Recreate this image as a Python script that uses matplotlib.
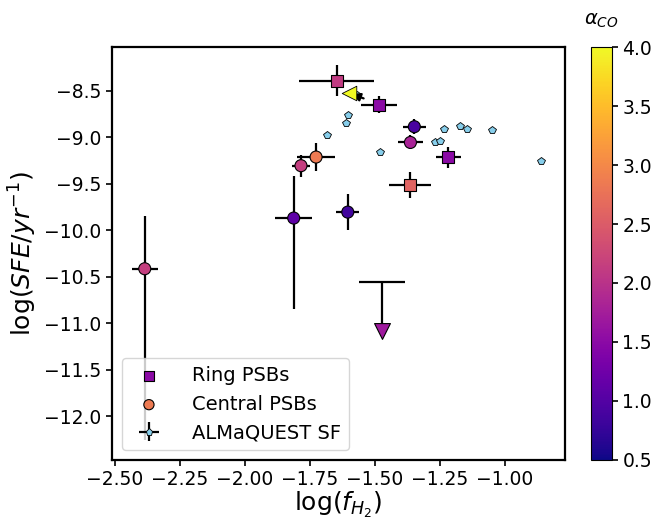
import matplotlib
matplotlib.use("Agg")
import matplotlib.pyplot as plt

# Ring PSBs (squares)
ring_x = [-1.485, -1.647, -1.219, -1.364]
ring_y = [-8.65, -8.392, -9.217, -9.514]
ring_xerr = [0.069, 0.144, 0.048, 0.081]
ring_yerr = [0.09, 0.165, 0.113, 0.136]
ring_aco = [1.5, 2.1, 1.5, 2.6]

# Ring PSB upper limit (bar level, drop to arrow tip)
lim_x = [-1.473]
lim_y = [-10.56]
lim_xerr = [0.09]
lim_drop = [0.525]
lim_aco = [1.7]

# Yellow lower-limit marker
tri_x = [-1.599]
tri_y = [-8.525]
tri_aco = [4.0]

# Central PSBs (circles)
cen_x = [-1.727, -1.349, -1.364, -1.785, -1.813, -1.605, -2.386]
cen_y = [-9.213, -8.887, -9.056, -9.306, -9.869, -9.805, -10.414]
cen_xerr = [0.072, 0.044, 0.049, 0.035, 0.072, 0.045, 0.05]
cen_yerr_lo = [0.152, 0.079, 0.075, 0.12, 0.978, 0.19, 1.84]
cen_yerr_hi = [0.152, 0.079, 0.075, 0.12, 0.448, 0.19, 0.57]
cen_aco = [2.85, 0.92, 1.8, 2.15, 1.1, 0.85, 2.15]

# ALMaQUEST star-forming galaxies
sf_x = [-1.686, -1.610, -1.604, -1.570, -1.481, -1.269, -1.250,
        -1.235, -1.173, -1.145, -1.050, -0.863]
sf_y = [-8.977, -8.851, -8.758, -8.543, -9.163, -9.056, -9.045,
        -8.909, -8.884, -8.909, -8.923, -9.253]

cmap = "plasma"
vmin, vmax = 0.5, 4.0

fig = plt.figure(figsize=(6.53, 5.2), dpi=100)
ax = fig.add_axes([0.1715, 0.1154, 0.6935, 0.7942])
cax = fig.add_axes([0.905, 0.1154, 0.032, 0.7942])

# error bars
ax.errorbar(ring_x, ring_y, xerr=ring_xerr, yerr=ring_yerr, fmt='none',
            ecolor='k', elinewidth=1.6, zorder=1)
ax.errorbar(cen_x, cen_y, xerr=cen_xerr, yerr=[cen_yerr_lo, cen_yerr_hi],
            fmt='none', ecolor='k', elinewidth=1.6, zorder=1)
ax.errorbar(lim_x, lim_y, xerr=lim_xerr, yerr=[lim_drop, [0]], fmt='none',
            ecolor='k', elinewidth=1.6, zorder=1)

sf = ax.errorbar(sf_x, sf_y, xerr=0, yerr=0, fmt='p', color='skyblue',
                 mec='k', mew=0.6, ms=6, ecolor='k', elinewidth=1.6,
                 label='ALMaQUEST SF', zorder=2)

ring = ax.scatter(ring_x, ring_y, c=ring_aco, cmap=cmap, vmin=vmin, vmax=vmax,
                  marker='s', s=75, edgecolors='k', linewidths=0.8,
                  label='Ring PSBs', zorder=3)
cen = ax.scatter(cen_x, cen_y, c=cen_aco, cmap=cmap, vmin=vmin, vmax=vmax,
                 marker='o', s=75, edgecolors='k', linewidths=0.8,
                 label='Central PSBs', zorder=3)

lim_tip = [y - d for y, d in zip(lim_y, lim_drop)]
ax.scatter(lim_x, lim_tip, c=lim_aco, cmap=cmap, vmin=vmin, vmax=vmax,
           marker='v', s=130, edgecolors='k', linewidths=0.8, zorder=3)

ax.annotate('', xy=(tri_x[0], tri_y[0]), xytext=(tri_x[0] + 0.065, tri_y[0] - 0.068),
            arrowprops=dict(arrowstyle='-|>', color='k', lw=1.6, mutation_scale=12),
            zorder=3)
ax.scatter(tri_x, tri_y, c=tri_aco, cmap=cmap, vmin=vmin, vmax=vmax,
           marker='<', s=110, edgecolors='k', linewidths=0.6, zorder=4)

ax.set_xlim(-2.512, -0.77)
ax.set_ylim(-12.47, -8.03)
ax.set_xticks([-2.5, -2.25, -2.0, -1.75, -1.5, -1.25, -1.0])
ax.set_yticks([-12.0, -11.5, -11.0, -10.5, -10.0, -9.5, -9.0, -8.5])
ax.tick_params(labelsize=13.5, width=1.2, length=4)
for s in ax.spines.values():
    s.set_linewidth(1.6)

ax.set_xlabel(r'$\log(f_{H_2})$', fontsize=18, labelpad=0)
ax.set_ylabel(r'$\log(SFE/yr^{-1})$', fontsize=18)

ax.legend(handles=[ring, cen, sf], loc='lower left', fontsize=14,
          handletextpad=1.2, markerscale=0.85)

cb = fig.colorbar(ring, cax=cax)
cb.ax.tick_params(labelsize=13.5, width=1.2, length=4)
cb.ax.set_title(r'$\alpha_{CO}$', fontsize=14, pad=16)

fig.savefig("out.png", dpi=100)
